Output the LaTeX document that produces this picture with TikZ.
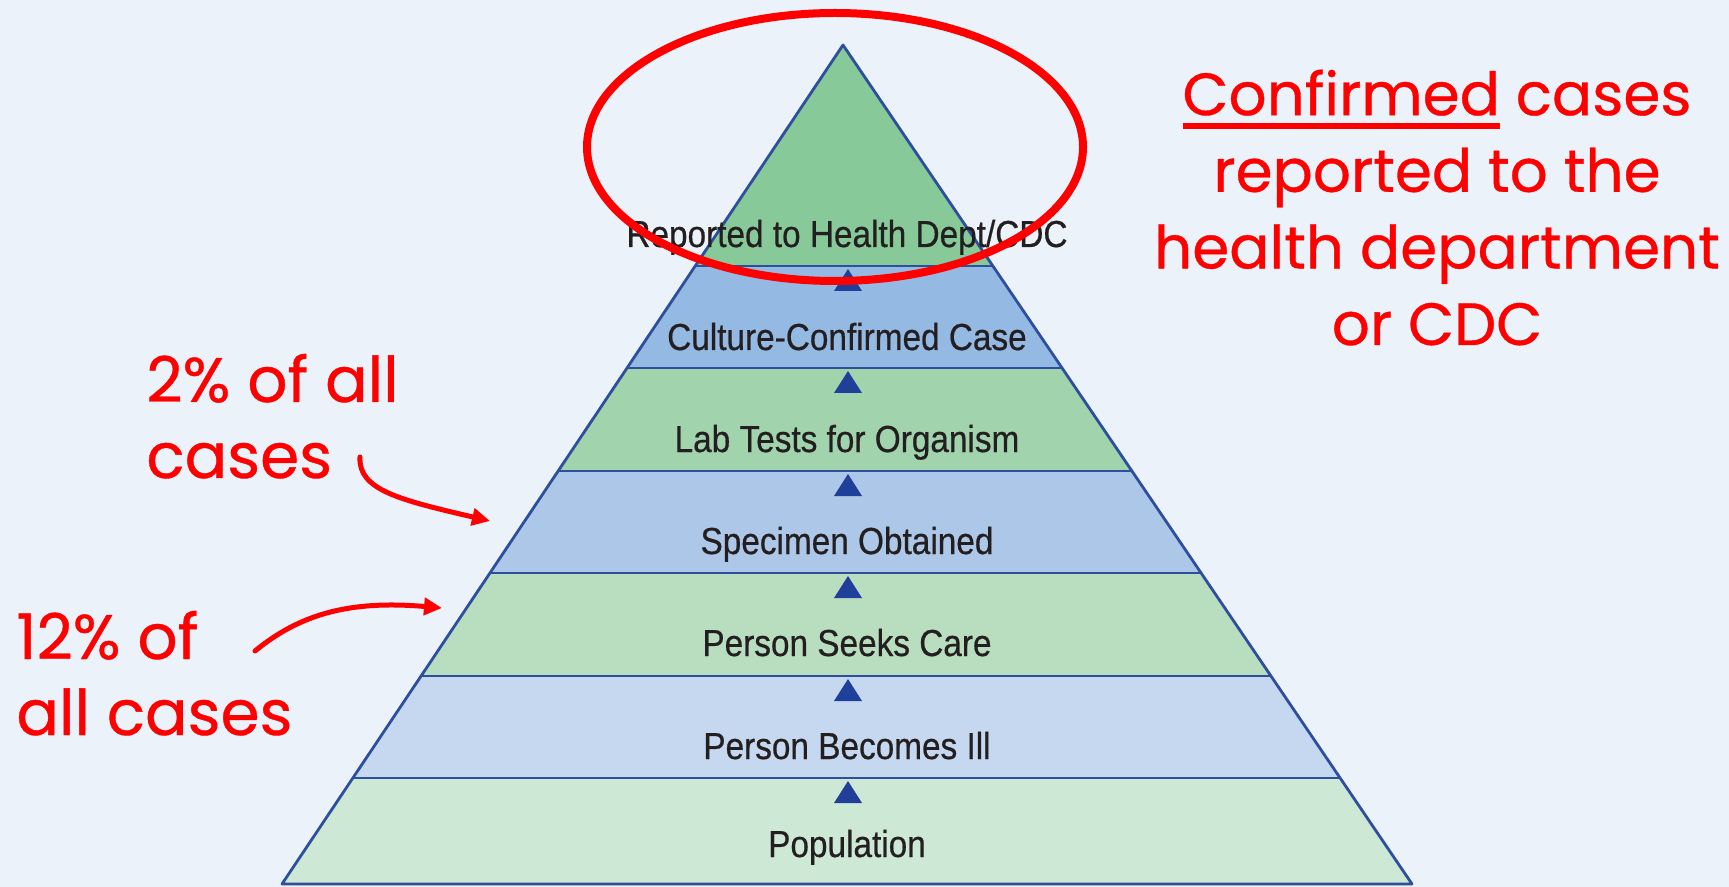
\documentclass[tikz,border=0pt]{standalone}
\usepackage{fontspec}
\setmainfont{Liberation Sans}
\newfontfamily\labelfont[FakeStretch=0.887,FakeBold=0.5]{Liberation Sans}
\newfontfamily\handfont[FakeBold=0.6]{Poppins}
\usetikzlibrary{arrows.meta}
\definecolor{bg}{HTML}{EBF2FA}
\definecolor{cTop}{HTML}{88C999}
\definecolor{cB1}{HTML}{94B9E3}
\definecolor{cB2}{HTML}{A1D3AD}
\definecolor{cB3}{HTML}{ADC7E8}
\definecolor{cB4}{HTML}{B8DDBF}
\definecolor{cB5}{HTML}{C5D8F0}
\definecolor{cB6}{HTML}{CDE8D4}
\definecolor{edgeblue}{HTML}{2E4E9E}
\definecolor{markblue}{HTML}{1F3F99}
\definecolor{txt}{HTML}{231F20}
\definecolor{hred}{HTML}{FF0000}
\tikzset{
  edgeline/.style={draw=edgeblue, line width=1.4pt, line join=round},
  sepline/.style={draw=edgeblue, line width=1.2pt},
  marker/.style={fill=markblue},
  lbl/.style={anchor=base, inner sep=0pt, text=txt, font=\labelfont\fontsize{18.8pt}{22pt}\selectfont},
  hand/.style={inner sep=0pt, text=hred, font=\handfont\fontsize{29.8pt}{38.3pt}\selectfont},
  handl/.style={inner sep=0pt, text=hred, align=left, anchor=base west, font=\handfont\fontsize{31.5pt}{38pt}\selectfont},
  redarrow/.style={draw=hred, line width=2.5pt, line cap=round, -{Triangle[length=9pt,width=8.5pt]}},
}
\begin{document}
\begin{tikzpicture}[x=0.5pt,y=-0.5pt]
\useasboundingbox (0,0) rectangle (1729,887);
\fill[bg] (0,0) rectangle (1729,887);
% pyramid bands
\fill[cTop] (843,45) -- (992.9,266) -- (695.2,266) -- cycle;
\fill[cB1] (695.2,266) -- (992.9,266) -- (1062.1,368) -- (627.0,368) -- cycle;
\fill[cB2] (627.0,368) -- (1062.1,368) -- (1131.9,471) -- (558.2,471) -- cycle;
\fill[cB3] (558.2,471) -- (1131.9,471) -- (1201.1,573) -- (490.0,573) -- cycle;
\fill[cB4] (490.0,573) -- (1201.1,573) -- (1270.9,676) -- (421.1,676) -- cycle;
\fill[cB5] (421.1,676) -- (1270.9,676) -- (1340.1,778) -- (352.9,778) -- cycle;
\fill[cB6] (352.9,778) -- (1340.1,778) -- (1412,884) -- (282,884) -- cycle;
% separators
\draw[sepline] (695.2,266) -- (992.9,266);
\draw[sepline] (627.0,368) -- (1062.1,368);
\draw[sepline] (558.2,471) -- (1131.9,471);
\draw[sepline] (490.0,573) -- (1201.1,573);
\draw[sepline] (421.1,676) -- (1270.9,676);
\draw[sepline] (352.9,778) -- (1340.1,778);
\draw[edgeline] (843,45) -- (1412,884) -- (282,884) -- cycle;
% markers
\foreach \y in {266,368,471,573,676,778}
  \fill[marker] (848,\y+3) -- (862,\y+25) -- (834,\y+25) -- cycle;
% labels
\node[lbl] (l0) at (847,247) {Reported to Health Dept/CDC};
\node[lbl] (l1) at (847,350) {Culture-Confirmed Case};
\node[lbl] (l2) at (847,452) {Lab Tests for Organism};
\node[lbl] (l3) at (847,554) {Specimen Obtained};
\node[lbl] (l4) at (847,656) {Person Seeks Care};
\node[lbl] (l5) at (847,759) {Person Becomes Ill};
\node[lbl] (l6) at (847,857) {Population};
% red ellipse
\draw[hred, line width=4pt] (835,147) ellipse [x radius=124pt, y radius=67pt];
% annotations
\node[hand, align=center, anchor=base] (rt) at (1437,345)
  {{\setbox0\hbox{Confirmed}\rlap{\rule[-7pt]{\wd0}{3pt}}\box0} cases\\reported to the\\health department\\or CDC};
\node[handl] (n2) at (146,478) {2\% of all\\cases};
\node[handl] (n12) at (16,735) {12\% of\\all cases};
\coordinate (s1) at (360,457);
\coordinate (e1) at (490,521);
\coordinate (s2) at (255,651);
\coordinate (e2) at (442,608);
\draw[redarrow] (s1) .. controls (358,490) and (400,500) .. (e1);
\draw[redarrow] (s2) .. controls (300,614) and (350,600) .. (e2);
\end{tikzpicture}
\end{document}
